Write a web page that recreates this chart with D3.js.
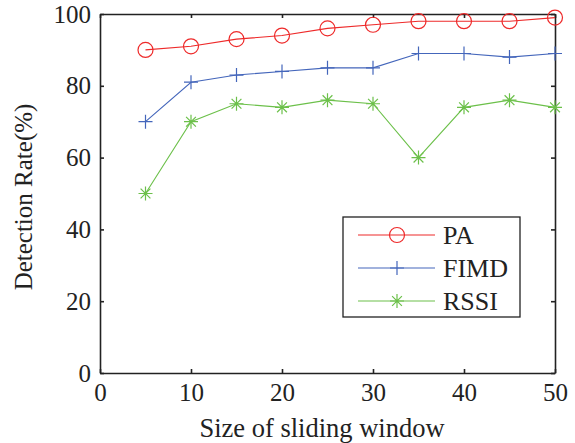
<!DOCTYPE html>
<html>
<head>
<meta charset="utf-8">
<script src="https://cdn.jsdelivr.net/npm/d3@7"></script>
<style>
  body { margin: 0; background: #fff; }
</style>
</head>
<body>
<div id="chart"></div>
<script>
// window sizes on the x axis
var windowSizes = [5, 10, 15, 20, 25, 30, 35, 40, 45, 50];
// detection rate (%) for each method
var paRate   = [90, 91, 93, 94, 96, 97, 98, 98, 98, 99];
var fimdRate = [70, 81, 83, 84, 85, 85, 89, 89, 88, 89];
var rssiRate = [50, 70, 75, 74, 76, 75, 60, 74, 76, 74];
var seriesNames = ["PA", "FIMD", "RSSI"];
var xTicks = [0, 10, 20, 30, 40, 50];
var yTicks = [0, 20, 40, 60, 80, 100];

var FONT = "'Liberation Serif', 'Times New Roman', Times, serif";
var W = 575, H = 443;
var margin = { top: 14, right: 20, bottom: 70, left: 100 };
var width = W - margin.left - margin.right,
    height = H - margin.top - margin.bottom;

var svg = d3.select("#chart").append("svg")
    .attr("width", W).attr("height", H);
var g = svg.append("g")
    .attr("transform", "translate(" + margin.left + "," + margin.top + ")");

var x = d3.scaleLinear().domain([0, 50]).range([0, width]);
var y = d3.scaleLinear().domain([0, 100]).range([height, 0]);

// axes with inward ticks, mirrored on top/right
g.append("g").attr("transform", "translate(0," + height + ")")
    .call(d3.axisBottom(x).tickValues(xTicks).tickSizeInner(-4).tickSizeOuter(0).tickPadding(10));
g.append("g")
    .call(d3.axisLeft(y).tickValues(yTicks).tickSizeInner(-4).tickSizeOuter(0).tickPadding(9));
g.append("g")
    .call(d3.axisTop(x).tickValues(xTicks).tickSizeInner(-4).tickSizeOuter(0).tickFormat(""));
g.append("g").attr("transform", "translate(" + width + ",0)")
    .call(d3.axisRight(y).tickValues(yTicks).tickSizeInner(-4).tickSizeOuter(0).tickFormat(""));

g.selectAll(".domain").attr("stroke", "#222").attr("stroke-width", 1.6);
g.selectAll(".tick line").attr("stroke", "#222").attr("stroke-width", 1.6);
g.selectAll(".tick text")
    .attr("font-family", FONT).attr("font-size", 25).attr("fill", "#222");

// axis titles
g.append("text")
    .attr("x", 222).attr("y", height + 64)
    .attr("text-anchor", "middle")
    .attr("font-family", FONT).attr("font-size", 26.5).attr("fill", "#222")
    .text("Size of sliding window");
g.append("text")
    .attr("transform", "translate(-68,183) rotate(-90)")
    .attr("text-anchor", "middle")
    .attr("font-family", FONT).attr("font-size", 25).attr("fill", "#222")
    .text("Detection Rate(%)");

var series = [
  { name: seriesNames[0], values: paRate,   color: "#ee2a2a", marker: "circle" },
  { name: seriesNames[1], values: fimdRate, color: "#4466bb", marker: "plus" },
  { name: seriesNames[2], values: rssiRate, color: "#6cc04a", marker: "star" }
];

var line = d3.line()
    .x(function (d, i) { return x(windowSizes[i]); })
    .y(function (d) { return y(d); });

function drawMarker(sel, type, color, cx, cy) {
  if (type === "circle") {
    sel.append("circle").attr("cx", cx).attr("cy", cy).attr("r", 7.5)
       .attr("fill", "none").attr("stroke", color).attr("stroke-width", 1.2);
  } else {
    var s = 7, path = "M" + (cx - s) + "," + cy + "H" + (cx + s) +
        "M" + cx + "," + (cy - s) + "V" + (cy + s);
    if (type === "star") {
      var d = s * 0.7;
      path += "M" + (cx - d) + "," + (cy - d) + "L" + (cx + d) + "," + (cy + d) +
              "M" + (cx - d) + "," + (cy + d) + "L" + (cx + d) + "," + (cy - d);
    }
    sel.append("path").attr("d", path).attr("fill", "none")
       .attr("stroke", color).attr("stroke-width", 1.2);
  }
}

series.forEach(function (s) {
  g.append("path").datum(s.values)
      .attr("fill", "none").attr("stroke", s.color).attr("stroke-width", 1.1)
      .attr("d", line);
  var mg = g.append("g");
  s.values.forEach(function (v, i) {
    drawMarker(mg, s.marker, s.color, x(windowSizes[i]), y(v));
  });
});

// legend
var lg = svg.append("g").attr("transform", "translate(343,217)");
lg.append("rect").attr("width", 177).attr("height", 100)
    .attr("fill", "#fff").attr("stroke", "#222").attr("stroke-width", 1.3);
series.forEach(function (s, i) {
  var ly = 18 + i * 33;
  lg.append("line").attr("x1", 15).attr("x2", 92).attr("y1", ly).attr("y2", ly)
      .attr("stroke", s.color).attr("stroke-width", 1.1);
  drawMarker(lg, s.marker, s.color, 54, ly);
  lg.append("text").attr("x", 100).attr("y", ly + 9)
      .attr("font-family", FONT).attr("font-size", 26).attr("fill", "#222")
      .text(s.name);
});
</script>
</body>
</html>
